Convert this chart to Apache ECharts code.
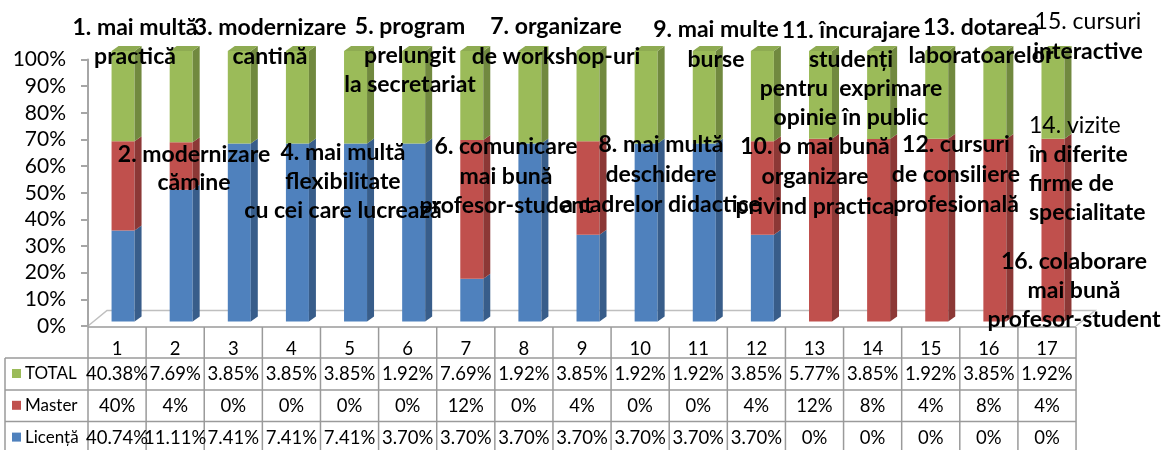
<!DOCTYPE html>
<html>
<head>
<meta charset="utf-8">
<script src="https://cdn.jsdelivr.net/npm/echarts@6/dist/echarts.min.js"></script>
<style>
  html, body { margin: 0; padding: 0; background: #fff; }
  #chart { width: 1162px; height: 450px; }
</style>
</head>
<body>
<div id="chart"></div>
<script>
// date
const categories = ['1', '2', '3', '4', '5', '6', '7', '8', '9', '10', '11', '12', '13', '14', '15', '16', '17'];
const seriesNames = ['TOTAL', 'Master', 'Licență'];
const totalVals = [40.38, 7.69, 3.85, 3.85, 3.85, 1.92, 7.69, 1.92, 3.85, 1.92, 1.92, 3.85, 5.77, 3.85, 1.92, 3.85, 1.92];
const masterVals = [40, 4, 0, 0, 0, 0, 12, 0, 4, 0, 0, 4, 12, 8, 4, 8, 4];
const licentaVals = [40.74, 11.11, 7.41, 7.41, 7.41, 3.70, 3.70, 3.70, 3.70, 3.70, 3.70, 3.70, 0, 0, 0, 0, 0];

// textele explicative de pe grafic
const noteTexts = [
  ['1. mai multă', 'practică'],
  ['2. modernizare', 'cămine'],
  ['3. modernizare', 'cantină'],
  ['4. mai multă', 'flexibilitate', 'cu cei care lucrează'],
  ['5. program', 'prelungit', 'la secretariat'],
  ['6. comunicare', 'mai bună', 'profesor-student'],
  ['7. organizare', 'de workshop-uri'],
  ['8. mai multă', 'deschidere', 'a cadrelor didactice'],
  ['9. mai multe', 'burse'],
  ['10. o mai bună', 'organizare', 'privind practica'],
  ['11. încurajare', 'studenți', 'pentru  exprimare', 'opinie în public'],
  ['12. cursuri', 'de consiliere', 'profesională'],
  ['13. dotarea', 'laboratoarelor'],
  ['14. vizite', 'în diferite', 'firme de', 'specialitate'],
  ['15. cursuri', 'interactive'],
  ['16. colaborare', 'mai bună', 'profesor-student']
];
// pozitia fiecarui bloc de text: [x, y primul rand, pas, aliniere]
const notePos = [
  [135, 28, 29, 'center'], [194, 155, 28, 'center'], [270, 28, 29, 'center'],
  [343, 153, 29, 'center'], [410, 27, 29, 'center'], [506, 147, 29.5, 'center'],
  [556, 27, 30, 'center'], [661, 145, 30, 'center'], [716, 30, 30, 'center'],
  [815, 147, 30, 'center'], [851, 31, 28.7, 'center'], [956, 145, 30, 'center'],
  [981, 28, 28, 'center'], [1029, 126, 29, 'left'], [1088, 22, 30, 'center'],
  [1074, 262, 29, 'center']
];

const pct = (v) => v + '%';
const totalLabels = totalVals.map((v) => v.toFixed(2) + '%');
const masterLabels = masterVals.map((v) => v + '%');
const licentaLabels = licentaVals.map((v) => (v === 0 ? '0%' : v.toFixed(2) + '%'));

// 100% stacked: fiecare coloana normalizata la suma
function stackData(which) {
  return categories.map((c, i) => {
    const vals = [licentaVals[i], masterVals[i], totalVals[i]];
    const sum = vals[0] + vals[1] + vals[2];
    let base = 0;
    for (let k = 0; k < which; k++) base += vals[k] / sum * 100;
    return [i, base, base + vals[which] / sum * 100];
  });
}

function bar3d(colors, withTop) {
  return function (params, api) {
    const lo = api.value(1);
    const hi = api.value(2);
    if (hi - lo <= 0.001) return;
    const pLo = api.coord([api.value(0), lo]);
    const pHi = api.coord([api.value(0), hi]);
    const w = 23, dx = 7, dy = 5;
    const xl = pLo[0] - w / 2, xr = pLo[0] + w / 2;
    const children = [
      { type: 'rect', shape: { x: xl, y: pHi[1], width: w, height: pLo[1] - pHi[1] }, style: { fill: colors[0] } },
      { type: 'polygon', shape: { points: [[xr, pHi[1]], [xr + dx, pHi[1] - dy], [xr + dx, pLo[1] - dy], [xr, pLo[1]]] }, style: { fill: colors[1] } }
    ];
    if (withTop) {
      children.push({ type: 'polygon', shape: { points: [[xl, pHi[1]], [xl + dx, pHi[1] - dy], [xr + dx, pHi[1] - dy], [xr, pHi[1]]] }, style: { fill: colors[2] } });
    }
    return { type: 'group', children };
  };
}

const FONT = 'Lato, "DejaVu Sans", sans-serif';
const colX0 = 88, colW = 58.12, tableRight = colX0 + colW * 17;
const seriesColors = ['#9bbb59', '#c0504d', '#4f81bd'];

const graphics = [];
// podeaua 3D
const floorStyle = { stroke: '#bfbfbf', lineWidth: 1.5 };
graphics.push({ type: 'polyline', shape: { points: [[88, 326], [107, 310.5], [1095, 310.5], [tableRight, 326]] }, style: floorStyle, silent: true });
// liniile tabelului
const lineStyle = { stroke: '#9a9a9a', lineWidth: 1.5 };
graphics.push({ type: 'line', shape: { x1: colX0, y1: 327, x2: tableRight, y2: 327 }, style: lineStyle });
[358, 390, 421.5].forEach((y) => {
  graphics.push({ type: 'line', shape: { x1: 5, y1: y, x2: tableRight, y2: y }, style: lineStyle });
});
graphics.push({ type: 'line', shape: { x1: 5, y1: 358, x2: 5, y2: 452 }, style: lineStyle });
for (let k = 0; k <= 17; k++) {
  const x = colX0 + k * colW;
  graphics.push({ type: 'line', shape: { x1: x, y1: 327, x2: x, y2: 452 }, style: lineStyle });
}
// legenda din tabel
seriesNames.forEach((name, r) => {
  const cy = 373.5 + r * 31.8;
  graphics.push({ type: 'rect', shape: { x: 12, y: cy - 4.5, width: 9, height: 9 }, style: { fill: seriesColors[r] } });
  graphics.push({
    type: 'text',
    style: { text: name, x: 25, y: cy, fill: '#000', font: '17px ' + FONT, align: 'left', verticalAlign: 'middle', textAlign: 'left', textVerticalAlign: 'middle' }
  });
});
// textele explicative
noteTexts.forEach((lines, n) => {
  const [x, y0, step, align] = notePos[n];
  lines.forEach((t, j) => {
    const light = (n === 13 || n === 14) && j === 0;
    graphics.push({
      type: 'text', z: 100,
      style: {
        text: t, x: x, y: y0 + j * step,
        fill: '#000',
        font: (light ? 'normal ' : 'bold ') + '23px ' + FONT,
        align: align, verticalAlign: 'middle',
        textAlign: align, textVerticalAlign: 'middle'
      }
    });
  });
});

const chart = echarts.init(document.getElementById('chart'));

function tableAxis(labels, margin) {
  return {
    type: 'category', gridIndex: 0, data: categories, position: 'bottom',
    axisLine: { show: false }, axisTick: { show: false }, splitLine: { show: false },
    axisLabel: {
      interval: 0, margin: margin, color: '#000', fontSize: 18.5, fontFamily: FONT,
      formatter: (v, i) => labels[i]
    }
  };
}

chart.setOption({
  animation: false,
  grid: [
    { left: colX0, top: 59.5, width: colW * 17, height: 266.5 },
    { left: 94, top: 51, width: colW * 17, height: 270.5 }
  ],
  xAxis: [
    tableAxis(categories, 14),
    tableAxis(totalLabels, 38.5),
    tableAxis(masterLabels, 71),
    tableAxis(licentaLabels, 102.5),
    { type: 'category', gridIndex: 1, data: categories, show: false }
  ],
  yAxis: [
    {
      type: 'value', gridIndex: 0, min: 0, max: 100, interval: 10,
      axisLine: { show: true, lineStyle: { color: '#a6a6a6', width: 2 } },
      axisTick: { show: true, length: 7, lineStyle: { color: '#a6a6a6', width: 2 } },
      splitLine: { show: false },
      axisLabel: { formatter: pct, margin: 22, color: '#000', fontSize: 21, fontFamily: FONT }
    },
    { type: 'value', gridIndex: 1, min: 0, max: 100, show: false }
  ],
  series: [
    {
      name: 'Licență', type: 'custom', xAxisIndex: 4, yAxisIndex: 1,
      renderItem: bar3d(['#4f81bd', '#385d8a'], false),
      encode: { x: 0, y: [1, 2] },
      data: stackData(0)
    },
    {
      name: 'Master', type: 'custom', xAxisIndex: 4, yAxisIndex: 1,
      renderItem: bar3d(['#c0504d', '#8c3836'], false),
      encode: { x: 0, y: [1, 2] },
      data: stackData(1)
    },
    {
      name: 'TOTAL', type: 'custom', xAxisIndex: 4, yAxisIndex: 1,
      renderItem: bar3d(['#9bbb59', '#71893f', '#8eab52'], true),
      encode: { x: 0, y: [1, 2] },
      data: stackData(2)
    }
  ],
  graphic: graphics
});
</script>
</body>
</html>
